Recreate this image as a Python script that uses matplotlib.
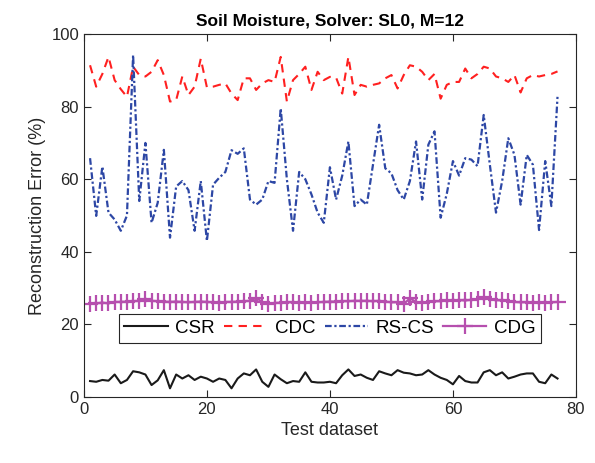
import numpy as np
import matplotlib
matplotlib.use("Agg")
import matplotlib.pyplot as plt

plt.rcParams['font.family'] = ['Liberation Sans', 'DejaVu Sans']

# Valeurs (77 jeux de test)
test_ids = np.arange(1, 78)

csr = [4.4, 4.2, 4.7, 4.5, 6.2, 3.8, 4.7, 7.1, 6.8, 6.2,
       3.3, 4.6, 7.4, 2.4, 6.2, 5.1, 6.0, 4.7, 5.6, 5.1,
       4.2, 5.1, 4.7, 2.4, 5.1, 6.5, 6.0, 7.6, 4.2, 2.8,
       6.2, 4.9, 3.8, 4.4, 4.2, 6.8, 4.2, 4.0, 4.0, 4.2,
       3.8, 6.0, 7.6, 5.8, 6.2, 5.3, 4.7, 7.1, 6.5, 6.0,
       7.4, 6.7, 6.5, 6.0, 6.2, 7.4, 6.2, 5.3, 4.7, 3.5,
       5.8, 4.4, 4.0, 4.0, 6.8, 7.4, 6.0, 6.8, 5.1, 5.6,
       6.2, 6.5, 6.5, 4.2, 3.8, 6.2, 5.1]

cdc = [91.4, 85.5, 89.0, 93.7, 87.3, 84.8, 82.7, 91.0, 88.7, 88.3,
       89.6, 92.8, 88.7, 81.4, 81.8, 88.3, 83.2, 85.5, 93.2, 85.3,
       85.5, 86.0, 86.4, 83.6, 81.8, 87.8, 87.8, 84.6, 86.4, 87.3,
       86.8, 93.7, 81.4, 87.3, 89.0, 91.0, 84.6, 89.6, 87.3, 88.2,
       88.0, 83.6, 93.7, 83.2, 86.0, 85.5, 86.0, 86.4, 87.8, 88.7,
       85.0, 88.7, 91.4, 91.0, 89.6, 87.3, 89.0, 82.2, 86.0, 86.8,
       86.8, 90.5, 87.8, 89.0, 91.0, 90.5, 88.3, 87.8, 86.8, 88.7,
       83.9, 87.8, 88.7, 88.3, 88.7, 89.0, 89.7]

rscs = [65.8, 49.9, 63.5, 50.8, 48.9, 45.8, 50.0, 94.2, 54.0, 70.0,
        48.0, 53.5, 68.1, 43.9, 58.0, 59.5, 57.0, 45.8, 59.5, 43.0,
        58.5, 60.4, 62.0, 68.0, 67.0, 68.5, 54.4, 53.0, 54.4, 59.5,
        59.0, 79.5, 60.0, 45.8, 62.0, 60.0, 55.8, 50.8, 48.0, 63.3,
        54.4, 61.0, 70.4, 52.6, 54.4, 53.0, 64.0, 75.0, 63.0, 61.6,
        57.0, 54.4, 59.5, 70.4, 54.4, 69.5, 73.2, 49.4, 56.0, 65.0,
        61.0, 65.8, 65.4, 63.6, 77.7, 64.0, 50.8, 59.5, 71.3, 66.7,
        53.0, 66.7, 64.0, 46.0, 65.0, 52.6, 82.7]

cdg = [25.7, 25.8, 26.0, 25.8, 26.2, 26.2, 26.3, 26.4, 26.5, 27.1,
       26.5, 26.4, 26.3, 26.2, 26.3, 26.2, 26.1, 26.2, 26.3, 26.2,
       26.1, 26.0, 26.2, 26.2, 26.3, 26.4, 26.5, 27.3, 26.2, 25.7,
       25.9, 26.0, 26.1, 26.1, 26.0, 26.1, 26.0, 26.1, 26.2, 26.3,
       26.3, 26.4, 26.4, 26.5, 26.5, 26.5, 26.4, 26.5, 26.3, 26.1,
       26.1, 25.6, 27.2, 26.2, 26.0, 26.2, 26.4, 26.4, 26.6, 26.5,
       26.7, 26.6, 26.8, 26.9, 27.5, 26.9, 26.7, 26.6, 26.4, 26.2,
       26.1, 26.1, 26.0, 26.1, 26.0, 26.1, 26.2]

fig = plt.figure(figsize=(5.95, 4.63), dpi=100)
ax = fig.add_axes([0.141, 0.1425, 0.827, 0.784])

ax.plot(test_ids, csr, color='#1a1a1a', lw=1.5, label='CSR')
ax.plot(test_ids, cdc, color='#ff2020', lw=1.5, dashes=(4, 3), label='CDC')
ax.plot(test_ids, rscs, color='#2d47a5', lw=1.6, dashes=(3, 1.2, 1, 1.2), label='RS-CS')
ax.plot(test_ids, cdg, color='#b64fae', lw=1.6, marker='+', markersize=12,
        markeredgewidth=1.6, label='CDG')

ax.set_xlim(0, 80)
ax.set_ylim(0, 100)
ax.set_xticks(np.arange(0, 81, 20))
ax.set_yticks(np.arange(0, 101, 20))
ax.tick_params(direction='in', top=True, right=True, labelsize=12,
               colors='#262626', length=5)
for s in ax.spines.values():
    s.set_color('#262626')
    s.set_linewidth(0.8)

ax.set_xlabel('Test dataset', fontsize=13, color='#262626')
ax.set_ylabel('Reconstruction Error (%)', fontsize=13, color='#262626')
ax.set_title('Soil Moisture, Solver: SL0, M=12', fontsize=12.5, fontweight='bold', pad=6)

leg = ax.legend(loc='center', bbox_to_anchor=(0.5, 0.189), ncol=4, fontsize=13.5,
                handlelength=2.3, numpoints=1, fancybox=False, framealpha=1,
                edgecolor='#262626', columnspacing=0.5, handletextpad=0.4,
                borderpad=0.3, borderaxespad=0)
leg.get_frame().set_linewidth(0.8)

fig.savefig('out.png', dpi=100)
